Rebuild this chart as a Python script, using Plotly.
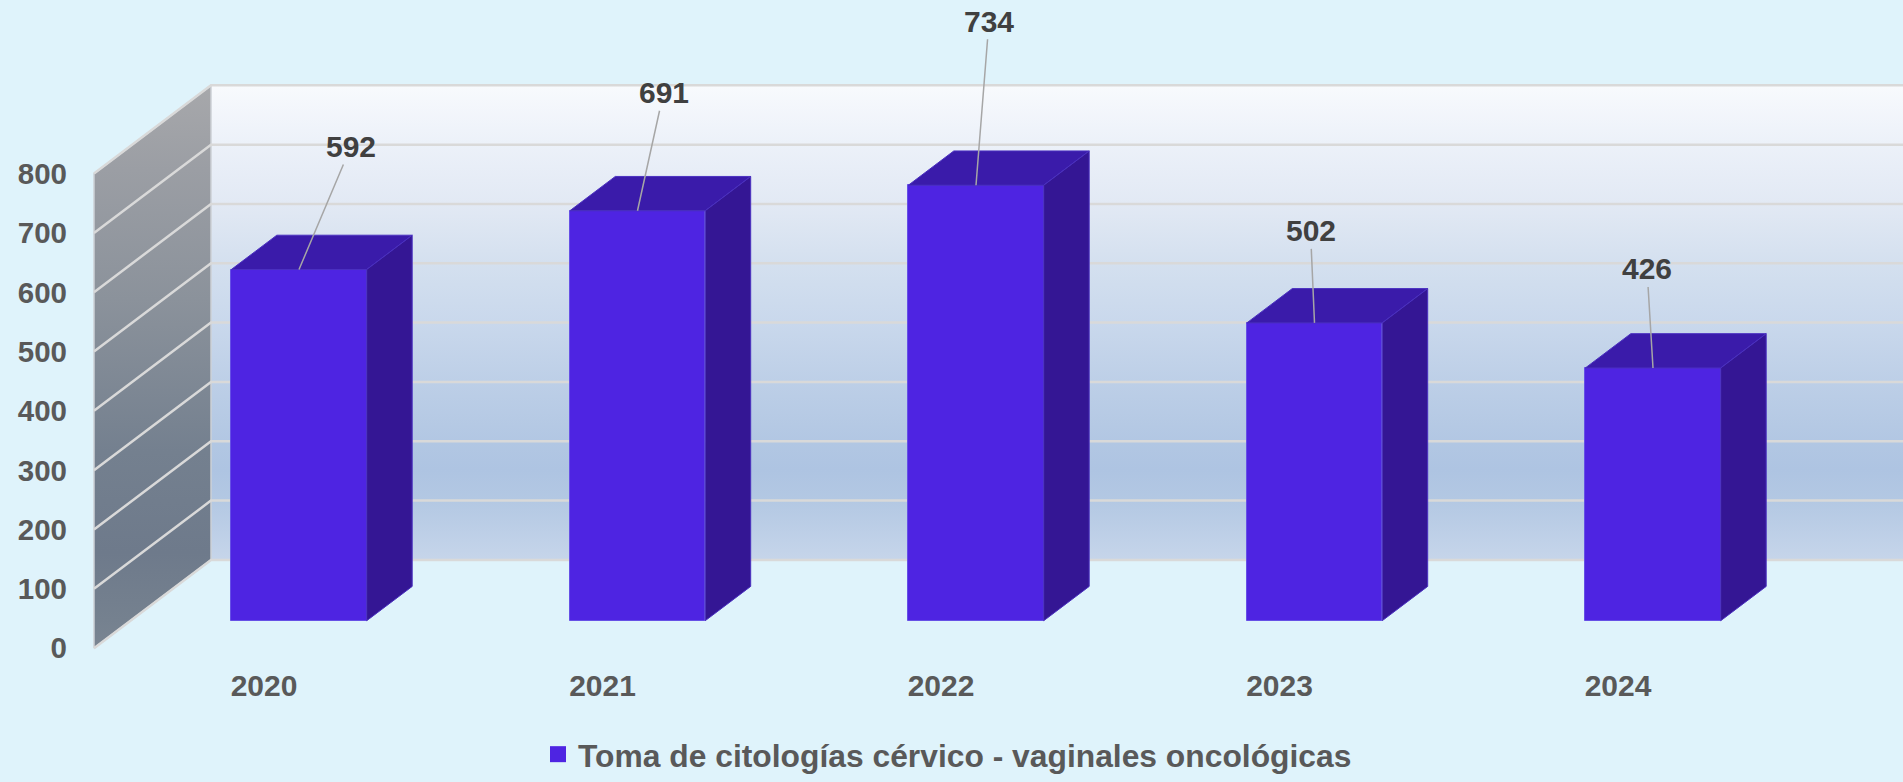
import plotly.graph_objects as go

# ---------------- data ----------------
categories = ["2020", "2021", "2022", "2023", "2024"]
values = [592, 691, 734, 502, 426]
series_name = "Toma de citologías cérvico - vaginales oncológicas"
y_ticks = [0, 100, 200, 300, 400, 500, 600, 700, 800]

# ---------------- style / geometry ----------------
label_offsets = [(52, -123), (26, -118), (13, -164), (-4, -92), (-6, -99)]  # px offsets of value labels
W, H = 1903, 782
ML, MB = 90, 112
PX_CAT = 338.5        # px per category step
PX_UNIT = 0.605       # px per value unit
CAT0_PX = 299         # pixel x of first category centre
BAR_ZERO_PX = 633     # pixel y of bar baseline
WALL_ZERO_PX = 661    # pixel y of wall front baseline
DEPTH_SLOPE = 1.30    # oblique projection: dx per dy
BAR_W = 0.4
BAR_DEPTH = 35
WALL_DEPTH = 90
WALL_FRONT_PX = 94

BG = "#DFF3FB"
FRONT = "#4E24E2"
TOP = "#3A1BAA"
SIDE = "#341694"
GRID = "#D9D9D9"
FONT = "Liberation Sans, Arial, sans-serif"

plot_h = H - MB
plot_w = W - ML
xr = [(ML - CAT0_PX) / PX_CAT, (W - CAT0_PX) / PX_CAT]
y_range = [-(plot_h - WALL_ZERO_PX) / PX_UNIT, WALL_ZERO_PX / PX_UNIT]
y2_range = [-(plot_h - BAR_ZERO_PX) / PX_UNIT, BAR_ZERO_PX / PX_UNIT]


def ddx(depth):
    return DEPTH_SLOPE * depth / PX_CAT


def ddy(depth):
    return depth / PX_UNIT


xf = (WALL_FRONT_PX - CAT0_PX) / PX_CAT
xb = xf + ddx(WALL_DEPTH)
wdy = ddy(WALL_DEPTH)
ytop = y_ticks[-1]
x_far = xr[1] + 0.2

fig = go.Figure()

# back wall
fig.add_trace(go.Scatter(
    x=[xb, x_far, x_far, xb, xb],
    y=[wdy, wdy, ytop + wdy, ytop + wdy, wdy],
    mode="lines", line=dict(width=0), fill="toself",
    fillgradient=dict(type="vertical", start=wdy, stop=ytop + wdy, colorscale=[
        [0, "#C6D5EA"], [0.04, "#C0D1E8"], [0.125, "#B3C8E3"], [0.19, "#AEC4E2"],
        [0.25, "#B2C7E3"], [0.376, "#BDCFE7"], [0.5, "#C9D8EC"], [0.626, "#D4E0EF"],
        [0.75, "#E2E9F4"], [0.877, "#ECF1F9"], [1, "#F8FAFD"]]),
    hoverinfo="skip", showlegend=False))

# side wall
fig.add_trace(go.Scatter(
    x=[xf, xb, xb, xf, xf],
    y=[0, wdy, ytop + wdy, ytop, 0],
    mode="lines", line=dict(width=1.5, color="#CDD1D6"), fill="toself",
    fillgradient=dict(type="vertical", start=0, stop=ytop + wdy, colorscale=[
        [0, "#7A8592"], [0.05, "#75818F"], [0.17, "#6E7A8B"], [0.35, "#74808F"],
        [0.62, "#8B929B"], [0.85, "#9B9EA4"], [1, "#A7A8AB"]]),
    hoverinfo="skip", showlegend=False))

# gridlines (back wall + side wall)
gx, gy = [], []
for v in y_ticks:
    gx += [xf, xb, x_far, None]
    gy += [v, v + wdy, v + wdy, None]
fig.add_trace(go.Scatter(x=gx, y=gy, mode="lines", line=dict(color=GRID, width=2.5),
                         hoverinfo="skip", showlegend=False))

# bars (front faces)
idx = list(range(len(categories)))
fig.add_trace(go.Bar(
    x=idx, y=values, width=BAR_W, yaxis="y2", name=series_name,
    marker=dict(color=FRONT, line=dict(color="#6650E6", width=1)),
    showlegend=False, hoverinfo="skip"))

# legend entry
fig.add_trace(go.Scatter(
    x=[None], y=[None], mode="markers", name=series_name,
    marker=dict(symbol="square", size=16, color=FRONT), showlegend=True))

# 3D faces of bars
shapes = []
bdx, bdy = ddx(BAR_DEPTH), ddy(BAR_DEPTH)
for i, v in zip(idx, values):
    x0, x1 = i - BAR_W / 2, i + BAR_W / 2
    shapes.append(dict(
        type="path", xref="x", yref="y2", layer="above",
        path=f"M{x0},{v} L{x1},{v} L{x1 + bdx},{v + bdy} L{x0 + bdx},{v + bdy} Z",
        fillcolor=TOP, line=dict(color="#4A30C0", width=1)))
    shapes.append(dict(
        type="path", xref="x", yref="y2", layer="above",
        path=f"M{x1},0 L{x1 + bdx},{bdy} L{x1 + bdx},{v + bdy} L{x1},{v} Z",
        fillcolor=SIDE, line=dict(color="#4A30C0", width=1)))

annotations = []
for i, v, (ox, oy) in zip(idx, values, label_offsets):
    annotations.append(dict(
        x=i, y=v, xref="x", yref="y2", text=str(v), showarrow=True,
        arrowhead=0, arrowwidth=1.5, arrowcolor="#A6A6A6", ax=ox, ay=oy,
        font=dict(family=FONT, size=30, color="#404040", weight="bold")))

fig.update_layout(
    template="none",
    width=W, height=H, autosize=False,
    margin=dict(l=ML, r=0, t=0, b=MB, pad=0),
    paper_bgcolor=BG, plot_bgcolor=BG,
    font=dict(family=FONT),
    bargap=0,
    shapes=shapes, annotations=annotations,
    xaxis=dict(range=xr, tickvals=idx, ticktext=categories, showgrid=False,
               zeroline=False, showline=False, ticks="", automargin=False,
               tickfont=dict(family=FONT, size=30, color="#595959", weight="bold"),
               ticklabelshift=-35, ticklabelstandoff=8),
    yaxis=dict(range=y_range, tickvals=y_ticks, showgrid=False, zeroline=False,
               showline=False, ticks="", automargin=False,
               tickfont=dict(family=FONT, size=29.5, color="#595959", weight="bold"),
               ticklabelstandoff=22),
    yaxis2=dict(range=y2_range, overlaying="y", visible=False, showgrid=False,
                zeroline=False),
    legend=dict(orientation="h", x=0.5 - 49 / plot_w, xanchor="center",
                y=-(770 - plot_h) / plot_h, yanchor="middle", bgcolor="rgba(0,0,0,0)",
                font=dict(family=FONT, size=31.8, color="#595959", weight="bold")),
    hovermode=False,
)

fig.write_html(
    "out.html",
    config={"displayModeBar": False},
    post_script="document.body.style.margin='0px';document.body.style.overflow='hidden';",
)
